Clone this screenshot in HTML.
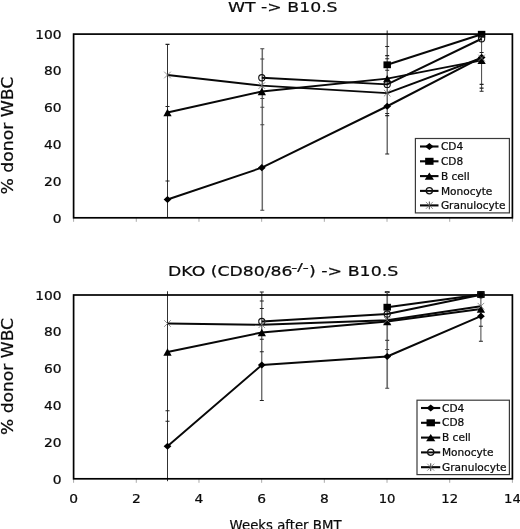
<!DOCTYPE html>
<html lang="en">
<head>
<meta charset="utf-8">
<title>Donor chimerism after BMT</title>
<style>
html,body{margin:0;padding:0;background:#fff;}
body{width:520px;height:529px;overflow:hidden;}
svg{display:block;}
svg text{font-family:"DejaVu Sans", "Liberation Sans", sans-serif;fill:#0a0a0a;stroke:#0a0a0a;stroke-width:0.22px;}
</style>
</head>
<body>
<svg width="520" height="529" viewBox="0 0 520 529">
<rect width="520" height="529" fill="#fff"/>
<text transform="translate(228,12.2) scale(1.184,1)" font-size="14.6">WT -&gt; B10.S</text>
<text transform="translate(168,276.4) scale(1.183,1)" font-size="14.6">DKO (CD80/86</text>
<text transform="translate(291.3,270.6) scale(1.62,1)" font-size="10.2">-/-</text>
<text transform="translate(309,276.4) scale(1.192,1)" font-size="14.6">) -&gt; B10.S</text>
<text transform="translate(13,194.6) rotate(-90) scale(1.15,1)" font-size="15">% donor WBC</text>
<text transform="translate(13,435) rotate(-90) scale(1.14,1)" font-size="15">% donor WBC</text>
<text transform="translate(229.6,529.8) scale(0.95,1)" font-size="14">Weeks after BMT</text>
<path fill="none" stroke="#1a1a1a" stroke-width="0.9" d="M167.5 44.4L167.5 217.6"/><path fill="none" stroke="#222" stroke-width="1.1" d="M165.5 44.4L169.5 44.4M165.5 106.5L169.5 106.5M165.5 181L169.5 181"/>
<path fill="none" stroke="#6a6a6a" stroke-width="1.5" d="M262.3 48.75L262.3 210.25"/><path fill="none" stroke="#444" stroke-width="1.1" d="M260.3 48.75L264.3 48.75M260.3 59L264.3 59M260.3 98.5L264.3 98.5M260.3 107.25L264.3 107.25M260.3 124.75L264.3 124.75M260.3 210.25L264.3 210.25"/>
<path fill="none" stroke="#4a4a4a" stroke-width="1.2" d="M387.2 30.6L387.2 154"/><path fill="none" stroke="#222" stroke-width="1.1" d="M385.2 46.5L389.2 46.5M385.2 55.6L389.2 55.6M385.2 58.75L389.2 58.75M385.2 70.25L389.2 70.25M385.2 113.5L389.2 113.5M385.2 115.6L389.2 115.6M385.2 154L389.2 154"/>
<path fill="none" stroke="#444" stroke-width="1" d="M481.6 34L481.6 91.25"/><path fill="none" stroke="#222" stroke-width="1.1" d="M479.6 52.5L483.6 52.5M479.6 84.4L483.6 84.4M479.6 88.1L483.6 88.1M479.6 91.25L483.6 91.25"/>
<path fill="none" stroke="#a0a0a0" stroke-width="0.9" d="M73.6 217.8L73.6 221.8M136.29 217.8L136.29 221.8M198.97 217.8L198.97 221.8M261.66 217.8L261.66 221.8M324.34 217.8L324.34 221.8M387.03 217.8L387.03 221.8M449.71 217.8L449.71 221.8M512.4 217.8L512.4 221.8"/>
<rect fill="none" stroke="#000" stroke-width="1.7" x="73.6" y="34.1" width="438.8" height="183.7"/>
<polyline fill="none" stroke="#080808" stroke-width="1.95" stroke-linejoin="round" points="167.5,199.5 261.8,167.7 387.2,106.25 481.6,57.4"/>
<polyline fill="none" stroke="#080808" stroke-width="1.95" stroke-linejoin="round" points="387.2,64.8 481.6,34.25"/>
<polyline fill="none" stroke="#080808" stroke-width="1.95" stroke-linejoin="round" points="167.5,112.5 261.8,91.5 387.2,78.6 481.6,60.4"/>
<polyline fill="none" stroke="#080808" stroke-width="1.95" stroke-linejoin="round" points="261.8,77.75 387.2,84.4 481.6,38.75"/>
<polyline fill="none" stroke="#080808" stroke-width="1.95" stroke-linejoin="round" points="167.5,75 261.8,85.6 387.2,93.1 481.6,58"/>
<path fill="#000" d="M167.5 195.9L171.39 199.5L167.5 203.1L163.61 199.5Z"/>
<path fill="#000" d="M261.8 164.1L265.69 167.7L261.8 171.3L257.91 167.7Z"/>
<path fill="#000" d="M387.2 102.65L391.09 106.25L387.2 109.85L383.31 106.25Z"/>
<path fill="#000" d="M481.6 53.8L485.49 57.4L481.6 61L477.71 57.4Z"/>
<rect fill="#000" x="383.46" y="61.4" width="7.48" height="6.8"/>
<rect fill="#000" x="477.86" y="30.85" width="7.48" height="6.8"/>
<path fill="#000" d="M167.5 108.87L171.63 116.13L163.37 116.13Z"/>
<path fill="#000" d="M261.8 87.87L265.93 95.13L257.67 95.13Z"/>
<path fill="#000" d="M387.2 74.97L391.33 82.23L383.07 82.23Z"/>
<path fill="#000" d="M481.6 56.77L485.73 64.03L477.47 64.03Z"/>
<circle fill="none" stroke="#111" stroke-width="1.1" cx="261.8" cy="77.75" r="3.1"/>
<circle fill="none" stroke="#111" stroke-width="1.1" cx="387.2" cy="84.4" r="3.1"/>
<circle fill="none" stroke="#111" stroke-width="1.1" cx="481.6" cy="38.75" r="3.1"/>
<path fill="none" stroke="#777" stroke-width="0.8" d="M164.2 71.7L170.8 78.3M164.2 78.3L170.8 71.7"/>
<path fill="none" stroke="#777" stroke-width="0.8" d="M258.5 82.3L265.1 88.9M258.5 88.9L265.1 82.3"/>
<path fill="none" stroke="#777" stroke-width="0.8" d="M383.9 89.8L390.5 96.4M383.9 96.4L390.5 89.8"/>
<path fill="none" stroke="#777" stroke-width="0.8" d="M478.3 54.7L484.9 61.3M478.3 61.3L484.9 54.7"/>
<text transform="translate(61.6,222.5) scale(1.2,1)" font-size="11.5" text-anchor="end">0</text>
<text transform="translate(61.6,185.76) scale(1.2,1)" font-size="11.5" text-anchor="end">20</text>
<text transform="translate(61.6,149.02) scale(1.2,1)" font-size="11.5" text-anchor="end">40</text>
<text transform="translate(61.6,112.28) scale(1.2,1)" font-size="11.5" text-anchor="end">60</text>
<text transform="translate(61.6,75.14) scale(1.2,1)" font-size="11.5" text-anchor="end">80</text>
<text transform="translate(61.6,38.8) scale(1.2,1)" font-size="11.5" text-anchor="end">100</text>
<rect fill="#fff" stroke="#3a3a3a" stroke-width="1.2" x="415.4" y="138.5" width="94" height="74.4"/>
<path stroke="#080808" stroke-width="2.1" d="M420 146.5L438.5 146.5"/>
<path fill="#000" d="M429.35 143L433.55 146.5L429.35 150L425.15 146.5Z"/>
<text transform="translate(440.9,150.1) scale(1.08,1)" font-size="9.8">CD4</text>
<path stroke="#080808" stroke-width="2.1" d="M420 161.3L438.5 161.3"/>
<rect fill="#000" x="425.15" y="157.8" width="8.4" height="7"/>
<text transform="translate(440.9,164.9) scale(1.08,1)" font-size="9.8">CD8</text>
<path stroke="#080808" stroke-width="2.1" d="M420 176.1L438.5 176.1"/>
<path fill="#000" d="M429.35 172.38L433.95 179.82L424.75 179.82Z"/>
<text transform="translate(440.9,179.7) scale(1.08,1)" font-size="9.8">B cell</text>
<path stroke="#080808" stroke-width="2.1" d="M420 190.9L438.5 190.9"/>
<circle fill="#fff" stroke="#111" stroke-width="1.25" cx="429.35" cy="190.7" r="3.1"/>
<path stroke="#080808" stroke-width="1.9" d="M426.75 190.9L431.95 190.9"/>
<text transform="translate(440.9,194.5) scale(1.08,1)" font-size="9.8">Monocyte</text>
<path stroke="#080808" stroke-width="2.1" d="M420 205.4L438.5 205.4"/>
<path fill="none" stroke="#777" stroke-width="0.8" d="M425.85 201.9L432.85 208.9M425.85 208.9L432.85 201.9"/>
<path fill="none" stroke="#444" stroke-width="1" d="M429.35 201.5L429.35 209.3"/>
<text transform="translate(440.9,209) scale(1.08,1)" font-size="9.8">Granulocyte</text>
<path fill="none" stroke="#222" stroke-width="1" d="M387.2 291.6L387.2 292.6"/><path fill="none" stroke="#1a1a1a" stroke-width="1.8" d="M384.8 292.1L389.6 292.1"/>
<path fill="none" stroke="#1a1a1a" stroke-width="0.9" d="M167.5 291.25L167.5 481.2"/><path fill="none" stroke="#222" stroke-width="1.1" d="M165.5 410.7L169.5 410.7M165.5 421.3L169.5 421.3"/>
<path fill="none" stroke="#333" stroke-width="1" d="M261.8 292L261.8 400.5"/><path fill="none" stroke="#222" stroke-width="1.1" d="M259.8 292L263.8 292M259.8 301L263.8 301M259.8 308.5L263.8 308.5M259.8 339.3L263.8 339.3M259.8 351.7L263.8 351.7M259.8 400.5L263.8 400.5"/>
<path fill="none" stroke="#707070" stroke-width="1.7" d="M387.2 292L387.2 388.2"/><path fill="none" stroke="#444" stroke-width="1.1" d="M385.2 292L389.2 292M385.2 340.4L389.2 340.4M385.2 349.5L389.2 349.5M385.2 388.2L389.2 388.2"/>
<path fill="none" stroke="#444" stroke-width="1" d="M480.9 294.5L480.9 341.25"/><path fill="none" stroke="#222" stroke-width="1.1" d="M478.9 326.25L482.9 326.25M478.9 341.25L482.9 341.25"/>
<path fill="none" stroke="#a0a0a0" stroke-width="0.9" d="M73.6 478.8L73.6 482.8M136.29 478.8L136.29 482.8M198.97 478.8L198.97 482.8M261.66 478.8L261.66 482.8M324.34 478.8L324.34 482.8M387.03 478.8L387.03 482.8M449.71 478.8L449.71 482.8M512.4 478.8L512.4 482.8"/>
<rect fill="none" stroke="#000" stroke-width="1.7" x="73.6" y="295" width="438.8" height="183.8"/>
<polyline fill="none" stroke="#080808" stroke-width="1.95" stroke-linejoin="round" points="167.5,446.25 261.8,365 387.2,356.5 480.9,316.2"/>
<polyline fill="none" stroke="#080808" stroke-width="1.95" stroke-linejoin="round" points="387.2,307.2 480.9,294.5"/>
<polyline fill="none" stroke="#080808" stroke-width="1.95" stroke-linejoin="round" points="167.5,352 261.8,332.5 387.2,321.5 480.9,309"/>
<polyline fill="none" stroke="#080808" stroke-width="1.95" stroke-linejoin="round" points="261.8,321.5 387.2,314 480.9,294.8"/>
<polyline fill="none" stroke="#080808" stroke-width="1.95" stroke-linejoin="round" points="167.5,323.5 261.8,324.75 387.2,320.2 480.9,306.2"/>
<path fill="#000" d="M167.5 442.65L171.39 446.25L167.5 449.85L163.61 446.25Z"/>
<path fill="#000" d="M261.8 361.4L265.69 365L261.8 368.6L257.91 365Z"/>
<path fill="#000" d="M387.2 352.9L391.09 356.5L387.2 360.1L383.31 356.5Z"/>
<path fill="#000" d="M480.9 312.6L484.79 316.2L480.9 319.8L477.01 316.2Z"/>
<rect fill="#000" x="383.46" y="303.8" width="7.48" height="6.8"/>
<rect fill="#000" x="477.16" y="291.1" width="7.48" height="6.8"/>
<path fill="#000" d="M167.5 348.37L171.63 355.63L163.37 355.63Z"/>
<path fill="#000" d="M261.8 328.87L265.93 336.13L257.67 336.13Z"/>
<path fill="#000" d="M387.2 317.87L391.33 325.13L383.07 325.13Z"/>
<path fill="#000" d="M480.9 305.37L485.03 312.63L476.77 312.63Z"/>
<circle fill="none" stroke="#111" stroke-width="1.1" cx="261.8" cy="321.5" r="3.1"/>
<circle fill="none" stroke="#111" stroke-width="1.1" cx="387.2" cy="314" r="3.1"/>
<circle fill="none" stroke="#111" stroke-width="1.1" cx="480.9" cy="294.8" r="3.1"/>
<path fill="none" stroke="#777" stroke-width="0.8" d="M164.2 320.2L170.8 326.8M164.2 326.8L170.8 320.2"/>
<path fill="none" stroke="#777" stroke-width="0.8" d="M258.5 321.45L265.1 328.05M258.5 328.05L265.1 321.45"/>
<path fill="none" stroke="#777" stroke-width="0.8" d="M383.9 316.9L390.5 323.5M383.9 323.5L390.5 316.9"/>
<path fill="none" stroke="#777" stroke-width="0.8" d="M477.6 302.9L484.2 309.5M477.6 309.5L484.2 302.9"/>
<text transform="translate(61.6,483.5) scale(1.2,1)" font-size="11.5" text-anchor="end">0</text>
<text transform="translate(61.6,446.74) scale(1.2,1)" font-size="11.5" text-anchor="end">20</text>
<text transform="translate(61.6,409.98) scale(1.2,1)" font-size="11.5" text-anchor="end">40</text>
<text transform="translate(61.6,373.22) scale(1.2,1)" font-size="11.5" text-anchor="end">60</text>
<text transform="translate(61.6,336.06) scale(1.2,1)" font-size="11.5" text-anchor="end">80</text>
<text transform="translate(61.6,299.7) scale(1.2,1)" font-size="11.5" text-anchor="end">100</text>
<text transform="translate(73.6,503.1) scale(1.2,1)" font-size="11.5" text-anchor="middle">0</text>
<text transform="translate(136.29,503.1) scale(1.2,1)" font-size="11.5" text-anchor="middle">2</text>
<text transform="translate(198.97,503.1) scale(1.2,1)" font-size="11.5" text-anchor="middle">4</text>
<text transform="translate(261.66,503.1) scale(1.2,1)" font-size="11.5" text-anchor="middle">6</text>
<text transform="translate(324.34,503.1) scale(1.2,1)" font-size="11.5" text-anchor="middle">8</text>
<text transform="translate(387.03,503.1) scale(1.15,1)" font-size="11.5" text-anchor="middle">10</text>
<text transform="translate(449.71,503.1) scale(1.15,1)" font-size="11.5" text-anchor="middle">12</text>
<text transform="translate(512.4,503.1) scale(1.15,1)" font-size="11.5" text-anchor="middle">14</text>
<rect fill="#fff" stroke="#3a3a3a" stroke-width="1.2" x="417" y="400.2" width="92.4" height="74.4"/>
<path stroke="#080808" stroke-width="2.1" d="M421 408L440.25 408"/>
<path fill="#000" d="M430.73 404.5L434.93 408L430.73 411.5L426.53 408Z"/>
<text transform="translate(442,411.6) scale(1.08,1)" font-size="9.8">CD4</text>
<path stroke="#080808" stroke-width="2.1" d="M421 422.8L440.25 422.8"/>
<rect fill="#000" x="426.53" y="419.3" width="8.4" height="7"/>
<text transform="translate(442,426.4) scale(1.08,1)" font-size="9.8">CD8</text>
<path stroke="#080808" stroke-width="2.1" d="M421 437.6L440.25 437.6"/>
<path fill="#000" d="M430.73 433.88L435.33 441.32L426.12 441.32Z"/>
<text transform="translate(442,441.2) scale(1.08,1)" font-size="9.8">B cell</text>
<path stroke="#080808" stroke-width="2.1" d="M421 452.4L440.25 452.4"/>
<circle fill="#fff" stroke="#111" stroke-width="1.25" cx="430.73" cy="452.2" r="3.1"/>
<path stroke="#080808" stroke-width="1.9" d="M428.12 452.4L433.33 452.4"/>
<text transform="translate(442,456) scale(1.08,1)" font-size="9.8">Monocyte</text>
<path stroke="#080808" stroke-width="2.1" d="M421 467.2L440.25 467.2"/>
<path fill="none" stroke="#777" stroke-width="0.8" d="M427.23 463.7L434.23 470.7M427.23 470.7L434.23 463.7"/>
<path fill="none" stroke="#444" stroke-width="1" d="M430.73 463.3L430.73 471.1"/>
<text transform="translate(442,470.8) scale(1.08,1)" font-size="9.8">Granulocyte</text>
</svg>
</body>
</html>
